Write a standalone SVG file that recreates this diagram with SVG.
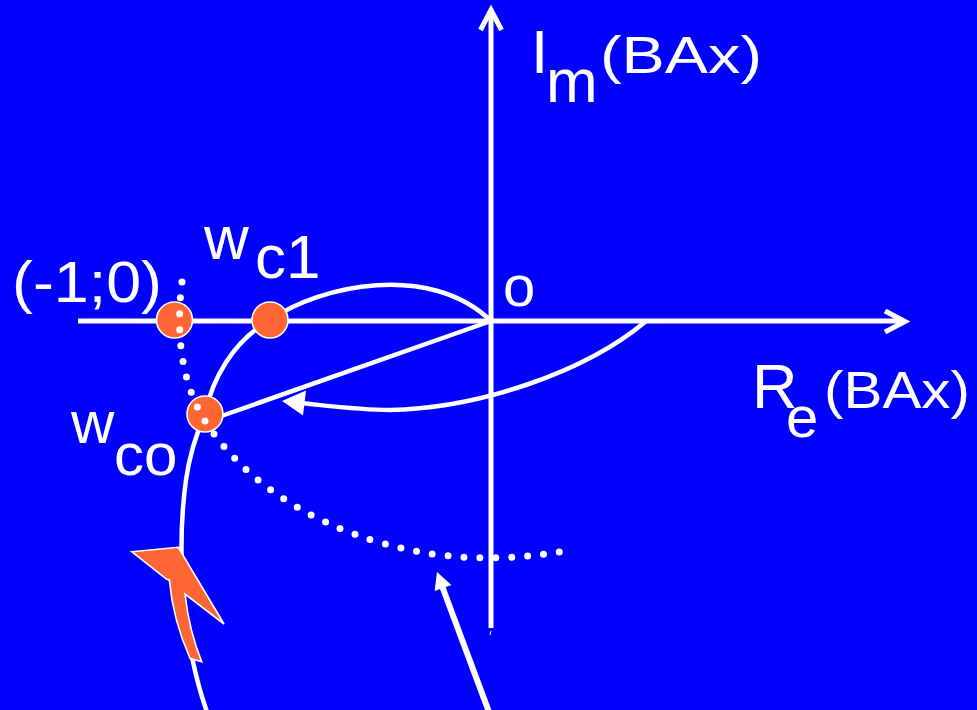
<svg xmlns="http://www.w3.org/2000/svg" width="977" height="710" viewBox="0 0 977 710">
<style>
.ln{fill:none;stroke:#fff;stroke-width:4.5;stroke-linecap:round}
.ax{fill:none;stroke:#fff;stroke-width:5}
.pt{fill:#FF6633;stroke:#fff;stroke-width:1.6}
.dot{fill:none;stroke:#fff;stroke-width:7;stroke-linecap:round;stroke-dasharray:0 1}
.t{fill:#fff;font-family:"Liberation Sans",Arial,sans-serif}
</style>
<rect width="977" height="710" fill="#0000FF"/>
<g id="axes">
<line class="ax" x1="78" y1="321" x2="904" y2="321"/>
<polyline class="ax" points="885,311 905,321.5 885,332" stroke-linejoin="miter"/>
<line class="ax" x1="491" y1="628" x2="491" y2="11"/>
<polyline class="ax" points="480.5,30 491,10 501.5,30" stroke-linejoin="miter"/>
<line x1="491" y1="631" x2="490" y2="635" stroke="#fff" stroke-width="1"/>
</g>
<g id="connectors">
<path class="ln" d="M207,712 C185,650 175,560 186,480 C190,451 198,430 205,414 C212,380 232,342 270,320 C320,285 430,262 491,321"/>
<line class="ln" x1="491" y1="321" x2="210" y2="420"/>
<path class="ln" d="M645,322 C585,372 480,408 390,410 C360,410 330,406 300,403"/>
<polygon points="282,401 306,390.5 303,415.5" fill="#fff"/>
<line x1="489" y1="712" x2="442" y2="586" stroke="#fff" stroke-width="6"/>
<polygon points="437,572 451.4,584.9 434.6,591.1" fill="#fff"/>
<path class="pt" d="M131.7,551.7 L178.3,547.3 L224,624 L185,594 Q189,630 201.7,661.7 L190,658.3 Q173,620 169.3,580 L166.7,579.3 Z" stroke-linejoin="miter"/>
</g>
<g id="pt-minus1">
<circle class="pt" cx="174.5" cy="320" r="18"/>
</g>
<g id="pt-wc1">
<circle class="pt" cx="270" cy="320" r="18"/>
</g>
<g id="pt-wco">
<circle class="pt" cx="205" cy="414" r="18"/>
</g>
<g id="dotted">
<path class="dot" pathLength="34.05" d="M182,282 C176,330 180,380 205,421 C240,475 300,520 385,544 C450,562 510,560 560,552"/>
</g>
<g id="labels">
<text class="t" x="531" y="73" font-size="62">I</text>
<text class="t" x="546" y="102" font-size="62">m</text>
<text class="t" x="600" y="73" font-size="52" textLength="162" lengthAdjust="spacingAndGlyphs">(BAx)</text>
<text class="t" x="752" y="408" font-size="63">R</text>
<text class="t" x="786" y="437" font-size="58">e</text>
<text class="t" x="824" y="408" font-size="52" textLength="146" lengthAdjust="spacingAndGlyphs">(BAx)</text>
<text class="t" x="12" y="302" font-size="57" textLength="150" lengthAdjust="spacingAndGlyphs">(-1;0)</text>
<text class="t" x="204" y="259" font-size="62">w</text>
<text class="t" x="255" y="278" font-size="62">c1</text>
<text class="t" x="71" y="443" font-size="60">w</text>
<text class="t" x="114" y="475" font-size="60">co</text>
<text class="t" x="503" y="306" font-size="58">o</text>
</g>
</svg>
